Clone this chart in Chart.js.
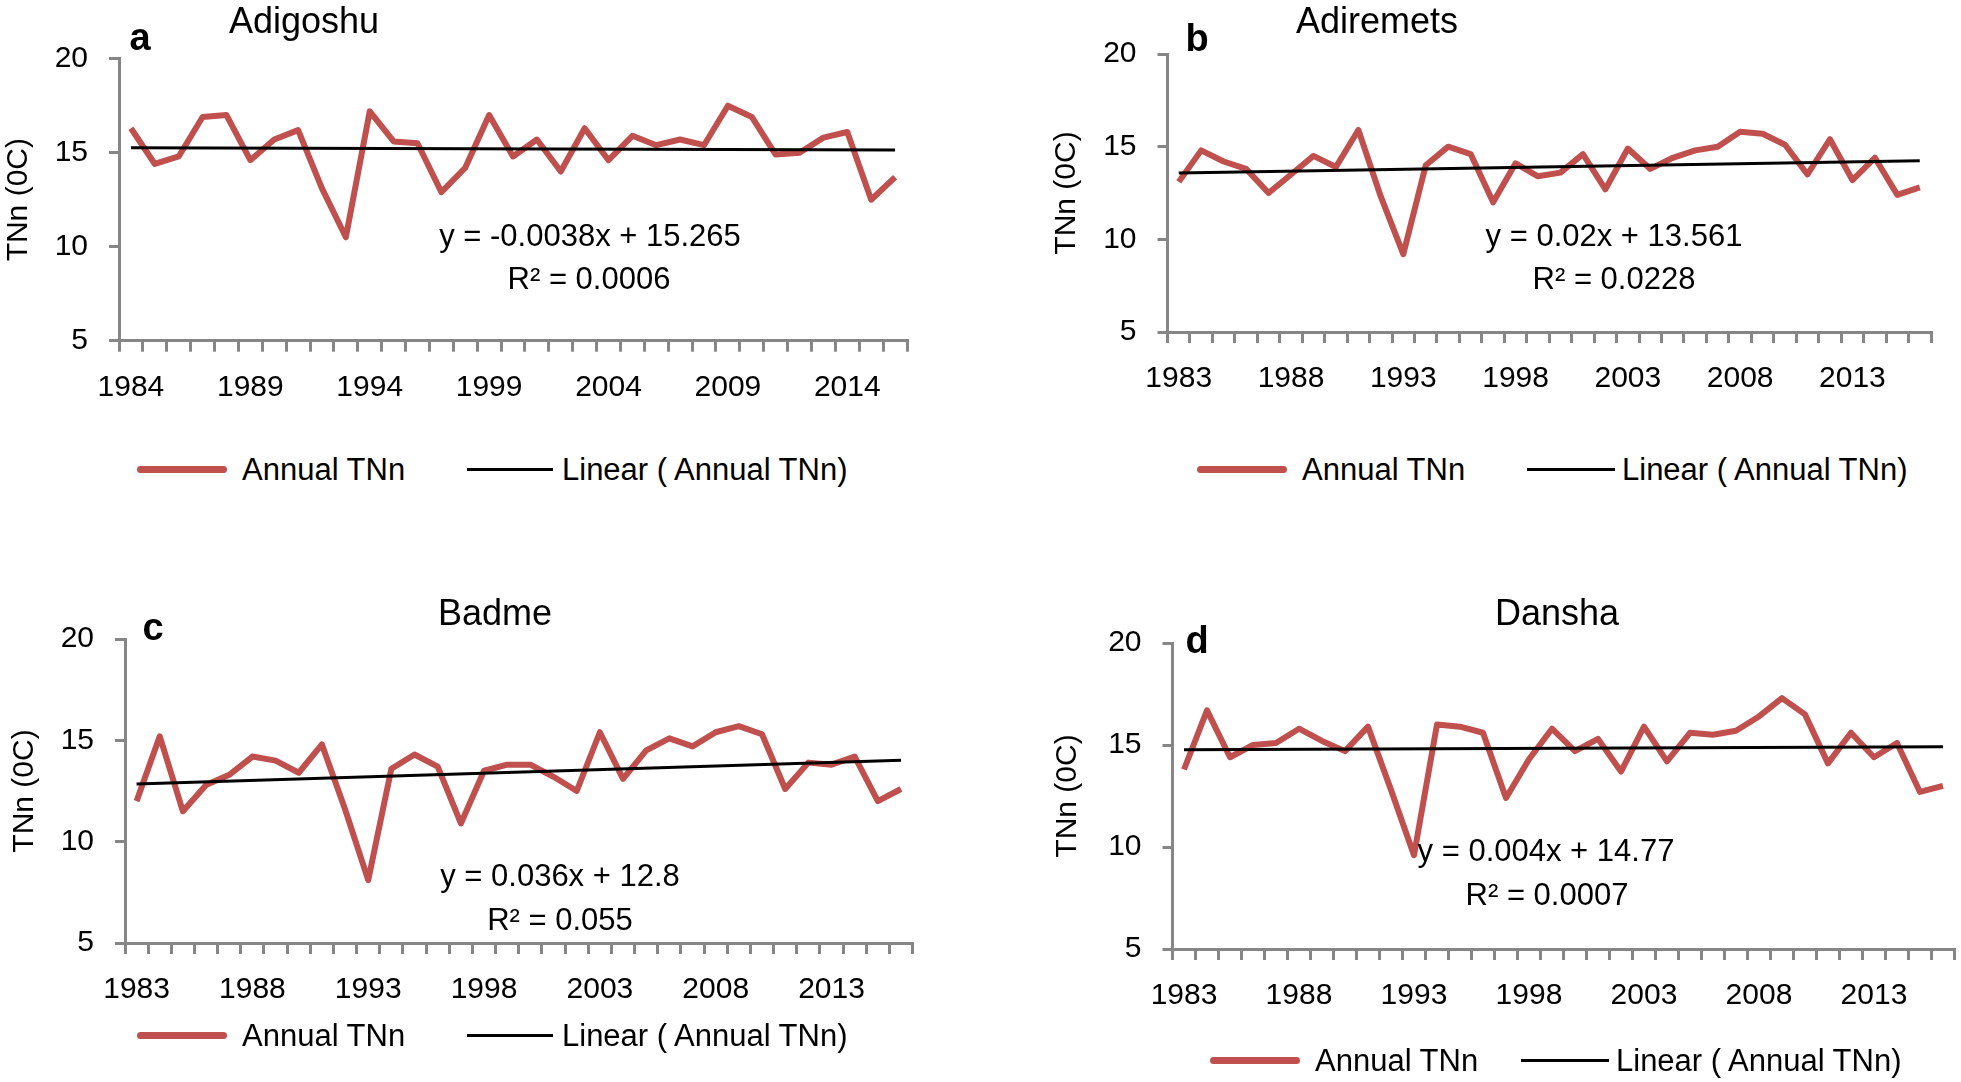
<!DOCTYPE html>
<html>
<head>
<meta charset="utf-8">
<script src="https://cdn.jsdelivr.net/npm/chart.js@4.4.1/dist/chart.umd.min.js"></script>
<style>
body { margin:0; background:#fff; width:1961px; height:1082px; position:relative; overflow:hidden; font-family:"Liberation Sans", Arial, sans-serif; }
canvas { position:absolute; }
.t { position:absolute; white-space:nowrap; color:#000; transform:translate(-50%,-50%); line-height:1; }
.ttl { font-size:36px; }
.lbl { font-size:38px; font-weight:bold; }
.eq { font-size:31px; }
.lgt { position:absolute; white-space:nowrap; font-size:31px; transform:translateY(-50%); line-height:1; }
.lgl { position:absolute; }
.red { height:7px; background:#C0504D; border-radius:3.5px; }
.blk { height:3px; background:#000; }
</style>
</head>
<body>
<canvas id="cA" width="979" height="420" style="left:1px;top:0px"></canvas>
<canvas id="cB" width="912" height="420" style="left:1049px;top:0px"></canvas>
<canvas id="cC" width="973" height="470" style="left:7px;top:580px"></canvas>
<canvas id="cD" width="911" height="470" style="left:1050px;top:580px"></canvas>

<div class="t ttl" style="left:304px;top:21px">Adigoshu</div>
<div class="t lbl" style="left:140px;top:37px">a</div>
<div class="t eq" style="left:590px;top:235px">y = -0.0038x + 15.265</div>
<div class="t eq" style="left:589px;top:278px">R² = 0.0006</div>

<div class="t ttl" style="left:1377px;top:21px">Adiremets</div>
<div class="t lbl" style="left:1197px;top:38px">b</div>
<div class="t eq" style="left:1614px;top:235px">y = 0.02x + 13.561</div>
<div class="t eq" style="left:1614px;top:278px">R² = 0.0228</div>

<div class="t ttl" style="left:495px;top:613px">Badme</div>
<div class="t lbl" style="left:153px;top:627px">c</div>
<div class="t eq" style="left:560px;top:875px">y = 0.036x + 12.8</div>
<div class="t eq" style="left:560px;top:919px">R² = 0.055</div>

<div class="t ttl" style="left:1557px;top:613px">Dansha</div>
<div class="t lbl" style="left:1197px;top:640px">d</div>
<div class="t eq" style="left:1546px;top:850px">y = 0.004x + 14.77</div>
<div class="t eq" style="left:1547px;top:894px">R² = 0.0007</div>

<div class="lgl red" style="left:137px;top:466px;width:90px"></div>
<div class="lgt" style="left:242px;top:469px">Annual TNn</div>
<div class="lgl blk" style="left:467px;top:468px;width:86px"></div>
<div class="lgt" style="left:562px;top:469px">Linear ( Annual TNn)</div>

<div class="lgl red" style="left:1197px;top:466px;width:90px"></div>
<div class="lgt" style="left:1302px;top:469px">Annual TNn</div>
<div class="lgl blk" style="left:1527px;top:468px;width:88px"></div>
<div class="lgt" style="left:1622px;top:469px">Linear ( Annual TNn)</div>

<div class="lgl red" style="left:137px;top:1032px;width:90px"></div>
<div class="lgt" style="left:242px;top:1035px">Annual TNn</div>
<div class="lgl blk" style="left:467px;top:1034px;width:86px"></div>
<div class="lgt" style="left:562px;top:1035px">Linear ( Annual TNn)</div>

<div class="lgl red" style="left:1210px;top:1057px;width:90px"></div>
<div class="lgt" style="left:1315px;top:1060px">Annual TNn</div>
<div class="lgl blk" style="left:1521px;top:1059px;width:88px"></div>
<div class="lgt" style="left:1616px;top:1060px">Linear ( Annual TNn)</div>

<script>
const FONT = '"Liberation Sans", Arial, sans-serif';
const AXIS_GRAY = '#868686';
const RED = '#C0504D';

// categories
const yearsA = ['1984','1985','1986','1987','1988','1989','1990','1991','1992','1993','1994','1995','1996','1997','1998','1999','2000','2001','2002','2003','2004','2005','2006','2007','2008','2009','2010','2011','2012','2013','2014','2015','2016'];
const yearsBCD = ['1983','1984','1985','1986','1987','1988','1989','1990','1991','1992','1993','1994','1995','1996','1997','1998','1999','2000','2001','2002','2003','2004','2005','2006','2007','2008','2009','2010','2011','2012','2013','2014','2015','2016'];

// tick labels that are written under the axis
const ticksA = ['1984','1989','1994','1999','2004','2009','2014'];
const ticksBCD = ['1983','1988','1993','1998','2003','2008','2013'];

// annual TNn
const adigoshu = [16.3,14.4,14.8,16.9,17.0,14.6,15.7,16.2,13.1,10.5,17.2,15.6,15.5,12.9,14.2,17.0,14.8,15.7,14.0,16.3,14.6,15.9,15.4,15.7,15.4,17.5,16.9,14.9,15.0,15.8,16.1,12.5,13.7];
const adiremets = [13.1,14.8,14.2,13.8,12.5,13.5,14.5,13.9,15.9,12.3,9.2,14.0,15.0,14.6,12.0,14.1,13.4,13.6,14.6,12.7,14.9,13.8,14.4,14.8,15.0,15.8,15.7,15.1,13.5,15.4,13.2,14.4,12.4,12.8];
const badme = [12.0,15.2,11.5,12.8,13.3,14.2,14.0,13.4,14.8,11.6,8.1,13.6,14.3,13.7,10.9,13.5,13.8,13.8,13.2,12.5,15.4,13.1,14.5,15.1,14.7,15.4,15.7,15.3,12.6,13.9,13.8,14.2,12.0,12.6];
const dansha = [13.8,16.7,14.4,15.0,15.1,15.8,15.2,14.7,15.9,12.8,9.6,16.0,15.9,15.6,12.4,14.3,15.8,14.7,15.3,13.7,15.9,14.2,15.6,15.5,15.7,16.4,17.3,16.5,14.1,15.6,14.4,15.1,12.7,13.0];

// linear trend, value at first and last year
const trendA = [15.26, 15.14];
const trendB = [13.58, 14.24];
const trendC = [12.84, 14.02];
const trendD = [14.77, 14.91];

function makePanel(id, years, values, trend, shown, box) {
    return new Chart(document.getElementById(id), {
        type: 'line',
        data: {
            labels: years,
            datasets: [{
                label: 'Linear ( Annual TNn)',
                data: [{x: years[0], y: trend[0]}, {x: years[years.length - 1], y: trend[1]}],
                borderColor: '#000',
                borderWidth: 3,
                pointRadius: 0,
                fill: false
            }, {
                label: 'Annual TNn',
                data: values,
                borderColor: RED,
                borderWidth: 6,
                borderJoinStyle: 'round',
                pointRadius: 0,
                tension: 0,
                fill: false
            }]
        },
        options: {
            responsive: false,
            animation: false,
            layout: { padding: { left: 0, top: box.top, right: box.right, bottom: box.bottom } },
            plugins: { legend: { display: false }, tooltip: { enabled: false } },
            scales: {
                x: {
                    type: 'category',
                    offset: true,
                    grid: { offset: true, drawOnChartArea: false, drawTicks: true, tickLength: 11, color: AXIS_GRAY, lineWidth: 3 },
                    border: { color: AXIS_GRAY, width: 3 },
                    ticks: {
                        autoSkip: false,
                        maxRotation: 0,
                        padding: 18,
                        color: '#000',
                        font: { size: 30, family: FONT },
                        callback: function (v) {
                            const l = this.getLabelForValue(v);
                            return shown.includes(l) ? l : '';
                        }
                    },
                    afterFit: s => { s.height = 70; }
                },
                y: {
                    min: 5,
                    max: 20,
                    grid: { drawOnChartArea: false, drawTicks: true, tickLength: 10, color: AXIS_GRAY, lineWidth: 3 },
                    border: { color: AXIS_GRAY, width: 3 },
                    ticks: { stepSize: 5, padding: 21, color: '#000', font: { size: 30, family: FONT } },
                    title: { display: true, text: 'TNn (0C)', color: '#000', padding: 0, font: { size: 30, family: FONT } },
                    afterFit: s => { s.width = box.axisW; }
                }
            }
        }
    });
}

makePanel('cA', yearsA, adigoshu, trendA, ticksA, { top: 58.7, right: 73, bottom: 9.3, axisW: 118 });
makePanel('cB', yearsBCD, adiremets, trendB, ticksBCD, { top: 54, right: 30, bottom: 18, axisW: 118.5 });
makePanel('cC', yearsBCD, badme, trendC, ticksBCD, { top: 59, right: 67.4, bottom: 37, axisW: 118 });
makePanel('cD', yearsBCD, dansha, trendD, ticksBCD, { top: 63, right: 3, bottom: 31, axisW: 122.5 });
</script>
</body>
</html>
